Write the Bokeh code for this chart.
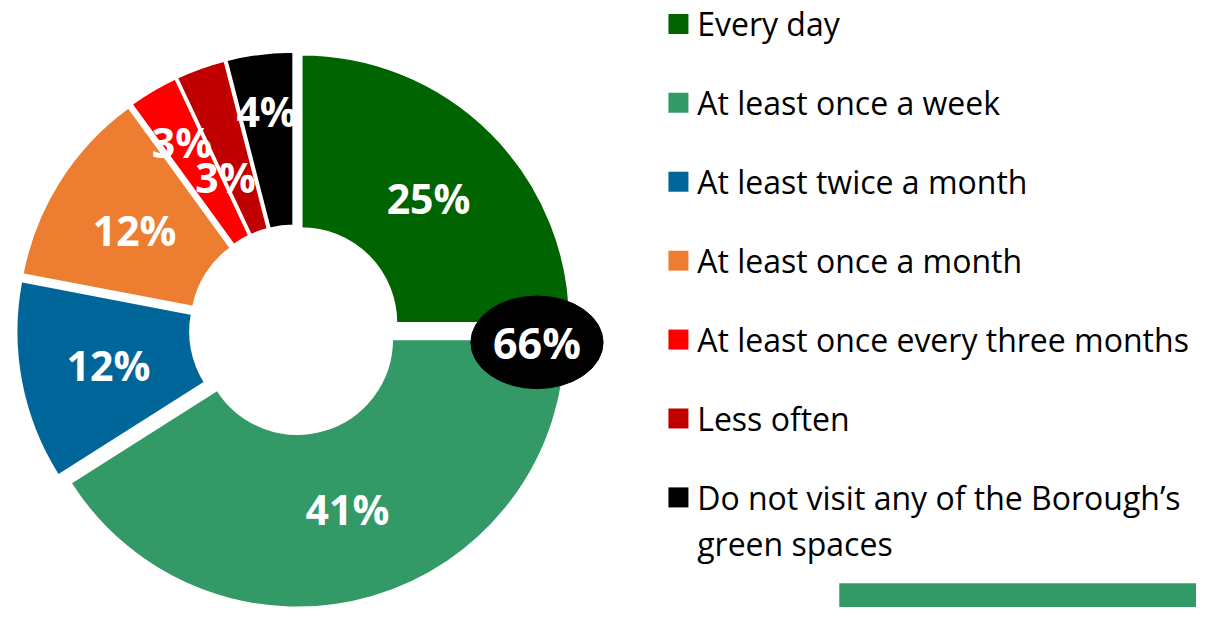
import numpy as np
from bokeh.plotting import figure
from bokeh.models import Range1d, ColumnDataSource
from bokeh.core.properties import value
from bokeh.embed import file_html
from bokeh.resources import INLINE

# ---- data ----
categories = [
    "Every day",
    "At least once a week",
    "At least twice a month",
    "At least once a month",
    "At least once every three months",
    "Less often",
    "Do not visit any of the Borough\u2019s\ngreen spaces",
]
values = [25, 41, 12, 12, 3, 3, 4]
colors = ["#006400", "#339966", "#006699", "#ED7D31", "#FF0000", "#C00000", "#000000"]
combined_label = "66%"  # Every day + At least once a week

# ---- layout / style ----
W, H = 1196, 607
CX, CY = 298, 285          # donut centre (data units, y up)
R_OUT, R_IN = 272, 96
EXPLODE = 10
label_radius = [182, 182, 182, 182, 214, 162, 216]
label_angle_shift = [0, 0, 0, 0, 0, -4.5, 0]
FONT = "Open Sans"

p = figure(width=W, height=H, output_backend="svg", toolbar_location=None,
           x_range=Range1d(0, 1212), y_range=Range1d(0, 623),
           x_axis_location=None, y_axis_location=None, min_border=0)
p.grid.visible = False
p.outline_line_color = None
p.background_fill_color = "white"
p.border_fill_color = "white"

vals = np.array(values, dtype=float)
cum = np.concatenate([[0], np.cumsum(vals)]) / vals.sum() * 360.0
a0, a1 = cum[:-1], cum[1:]
mid = (a0 + a1) / 2
xs = CX + EXPLODE * np.sin(np.radians(mid))
ys = CY + EXPLODE * np.cos(np.radians(mid))

src = ColumnDataSource(dict(
    x=xs, y=ys,
    start=np.radians(90 - a1), end=np.radians(90 - a0),
    color=colors,
))
p.annular_wedge(x="x", y="y", inner_radius=R_IN, outer_radius=R_OUT,
                start_angle="start", end_angle="end", direction="anticlock",
                fill_color="color", line_color="white", line_width=2, source=src)

# slice labels
la = np.radians(mid + np.array(label_angle_shift))
lx = xs + np.array(label_radius) * np.sin(la)
ly = ys + np.array(label_radius) * np.cos(la)
p.text(x=lx, y=ly, text=[f"{v}%" for v in values], text_align="center",
       text_baseline="middle", text_color="white", text_font=value(FONT),
       text_font_style="bold", text_font_size="41px")

# combined label bubble
ba = np.radians(cum[1] + 3)
bx = CX + 246 * np.sin(ba)
by = CY + 246 * np.cos(ba)
p.ellipse(x=[bx], y=[by], width=134, height=95, fill_color="black", line_color="black")
p.text(x=[bx], y=[by], text=[combined_label], text_align="center", text_baseline="middle",
       text_color="white", text_font=value(FONT), text_font_style="bold",
       text_font_size="43px")

# legend
LEG_X, LEG_Y0, LEG_STEP, LINE_STEP = 687, 623 - 24, 81, 47
sq_x, sq_y, tx, ty, tt = [], [], [], [], []
for i, cat in enumerate(categories):
    yy = LEG_Y0 - i * LEG_STEP
    sq_x.append(LEG_X); sq_y.append(yy)
    for k, line in enumerate(cat.split("\n")):
        tx.append(LEG_X + 19); ty.append(yy - k * LINE_STEP); tt.append(line)
p.scatter(x=sq_x, y=sq_y, marker="square", size=20, fill_color=colors, line_color=None)
p.text(x=tx, y=ty, text=tt, text_align="left", text_baseline="middle",
       text_color="black", text_font=value(FONT), text_font_size="32px")

# decorative bar bottom-right
p.quad(left=[850], right=[1230], bottom=[-5], top=[25], fill_color="#339966", line_color=None)

open("out.html", "w").write(file_html(p, INLINE))
